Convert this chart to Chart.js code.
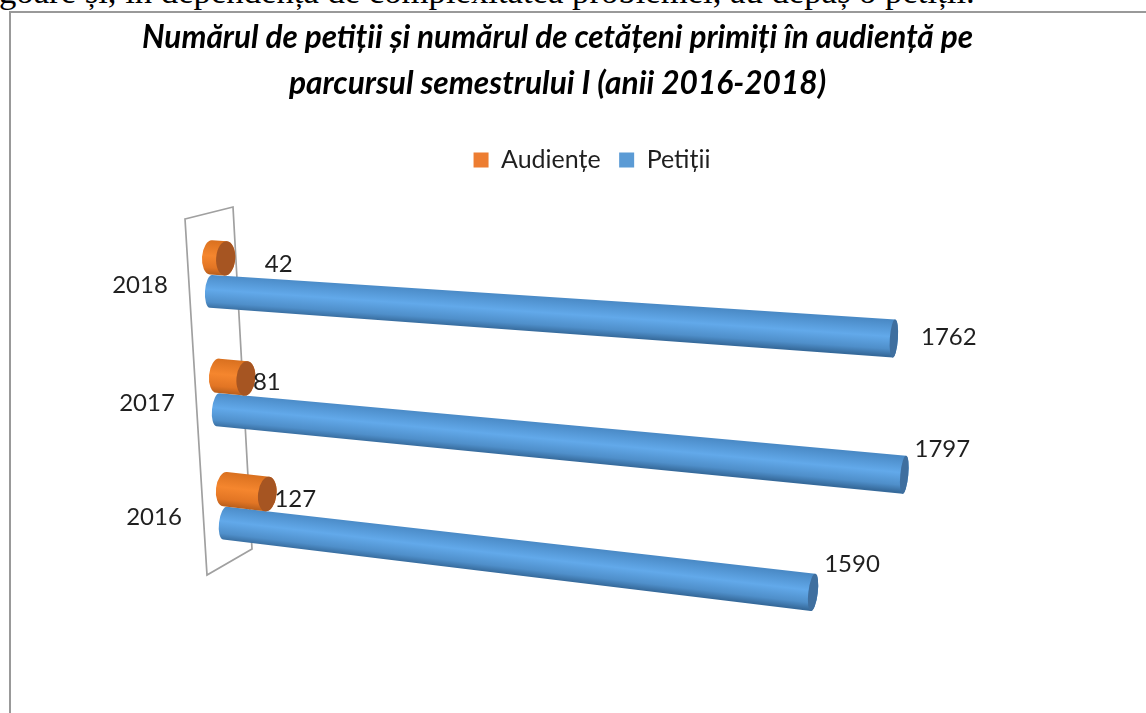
<!DOCTYPE html>
<html lang="ro">
<head>
<meta charset="utf-8">
<title>Petiții și audiențe</title>
<script src="https://cdn.jsdelivr.net/npm/chart.js@4"></script>
<style>
  html, body { margin: 0; background: #fff; }
  body { width: 1146px; height: 713px; overflow: hidden; position: relative; }
  #topLine {
    position: absolute; left: -1px; top: -28px; white-space: nowrap;
    font: 34.7px/40px "Liberation Serif", serif; color: #000;
  }
  #frame {
    position: absolute; left: 9px; top: 11px; right: 0; bottom: 0;
    border-left: 2px solid #999; border-top: 2px solid #999; background: #fff;
  }
  canvas { position: absolute; left: 0; top: 0; }
</style>
</head>
<body>
<div id="topLine">goare și, în dependența de complexitatea problemei, au depăș o petiții.</div>
<div id="frame"></div>
<canvas id="chart" width="1146" height="713"></canvas>
<script>
const years = ["2018", "2017", "2016"]
const audiente = [42, 81, 127]
const petitii = [1762, 1797, 1590]
const titleLines = [
  "Numărul de petiții și numărul de cetățeni primiți în audiență pe",
  "parcursul semestrului I (anii 2016-2018)",
]

// vue 3D : chaque rangée a sa propre inclinaison
const rowTilt = [0.069, 0.0946, 0.118]
const rowDx = [0, 7, 14]
const rowDy = [0, 2.5, 0]
const rowStretch = [1.0172, 1.0024, 0.9707]
const wallCorners = [[185, 219], [233, 207], [252, 549], [207, 575]]

// position des étiquettes par rapport au bout de la barre
const labelOffsets = {
  0: [[53, 6], [21, 4], [28, 5]],
  1: [[55, -1], [38, -25], [39, -28]],
}

const textFont = "Lato, Carlito, sans-serif"

function project(chart, row, stretch, px, py) {
  const left = chart.chartArea.left
  const d = (px - left) * rowStretch[row] * stretch
  return { x: left + rowDx[row] + d, y: py + rowDy[row] + d * rowTilt[row] }
}

// le cylindre grossit un peu vers le fond, et ses bouts s'aplatissent
function halfHeight(base, x) {
  return base * (0.97 + (x - 210) * 0.00022)
}
function capWidth(x) {
  return Math.max(4, 9.5 - (x - 230) * 0.0082)
}

function drawCylinder(ctx, start, end, baseHalf, ds) {
  const colors = ds.shades
  const angle = Math.atan2(end.y - start.y, end.x - start.x)
  const nx = -Math.sin(angle)
  const ny = Math.cos(angle)
  const hs = halfHeight(baseHalf, start.x)
  const he = halfHeight(baseHalf, end.x)
  const ws = ds.startCap
  const we = capWidth(end.x)
  const mx = (start.x + end.x) / 2
  const my = (start.y + end.y) / 2
  const hm = (hs + he) / 2

  const grad = ctx.createLinearGradient(mx - nx * hm, my - ny * hm, mx + nx * hm, my + ny * hm)
  grad.addColorStop(0, colors[0])
  grad.addColorStop(0.45, colors[1])
  grad.addColorStop(0.8, colors[2])
  grad.addColorStop(1, colors[3])

  ctx.beginPath()
  ctx.ellipse(start.x, start.y, ws, hs, angle, -Math.PI / 2, Math.PI / 2, true)
  ctx.ellipse(end.x, end.y, we, he, angle, Math.PI / 2, -Math.PI / 2, true)
  ctx.closePath()
  ctx.fillStyle = grad
  ctx.fill()

  ctx.beginPath()
  ctx.ellipse(end.x, end.y, we, he, angle, 0, Math.PI * 2)
  ctx.fillStyle = colors[4]
  ctx.fill()
}

class CylinderController extends Chart.BarController {
  draw() {
    const ctx = this.chart.ctx
    const ds = this.getDataset()
    this.getMeta().data.forEach((bar, row) => {
      const start = project(this.chart, row, ds.stretch, bar.base, bar.y)
      const end = project(this.chart, row, ds.stretch, bar.x, bar.y)
      drawCylinder(ctx, start, end, bar.height / 2 * ds.girth, ds)
    })
  }
}
CylinderController.id = "cylinder"
CylinderController.defaults = Chart.BarController.defaults
Chart.register(CylinderController)

const backWall = {
  id: "backWall",
  beforeDatasetsDraw(chart) {
    const ctx = chart.ctx
    ctx.save()
    ctx.beginPath()
    wallCorners.forEach((p, i) => (i ? ctx.lineTo(p[0], p[1]) : ctx.moveTo(p[0], p[1])))
    ctx.closePath()
    ctx.strokeStyle = "#a0a0a0"
    ctx.lineWidth = 1.7
    ctx.stroke()
    ctx.restore()
  },
}

const textLabels = {
  id: "textLabels",
  afterDatasetsDraw(chart) {
    const ctx = chart.ctx
    const yScale = chart.scales.y
    ctx.save()
    ctx.font = "24px " + textFont
    ctx.fillStyle = "#1f1f1f"
    ctx.textAlign = "center"
    ctx.textBaseline = "middle"
    years.forEach((year, row) => {
      const start = project(chart, row, 1, chart.chartArea.left, yScale.getPixelForTick(row))
      ctx.fillText(year, start.x - 71, start.y + 11)
    })
    chart.data.datasets.forEach((ds, d) => {
      chart.getDatasetMeta(d).data.forEach((bar, row) => {
        const end = project(chart, row, ds.stretch, bar.x, bar.y)
        const off = labelOffsets[d][row]
        ctx.fillText(ds.data[row], end.x + off[0], end.y + off[1])
      })
    })
    ctx.restore()
  },
}

new Chart(document.getElementById("chart"), {
  type: "cylinder",
  data: {
    labels: years,
    datasets: [
      {
        label: "Audiențe",
        data: audiente,
        backgroundColor: "#ed7d31",
        clip: false,
        stretch: 0.9,
        girth: 1.04,
        startCap: 9,
        shades: ["#d9701f", "#f5862e", "#e27524", "#b85e1c", "#a65522"],
      },
      {
        label: "Petiții",
        data: petitii,
        backgroundColor: "#5b9bd5",
        clip: false,
        stretch: 1,
        girth: 1,
        startCap: 6,
        shades: ["#4a8ac6", "#62a9ea", "#4f8fca", "#366a9b", "#3f6f9f"],
      },
    ],
  },
  options: {
    indexAxis: "y",
    responsive: false,
    animation: false,
    barThickness: 34,
    layout: { padding: { left: 142, right: 173, top: 0, bottom: 149 } },
    scales: {
      x: {
        position: "top",
        min: 0,
        max: 2000,
        grid: { display: false },
        border: { display: false },
        ticks: { display: false },
        afterFit(scale) { scale.height = 34 },
      },
      y: {
        grid: { display: false },
        border: { display: false },
        ticks: { display: false },
        afterFit(scale) { scale.width = 69 },
      },
    },
    plugins: {
      title: {
        display: true,
        text: titleLines,
        color: "#000",
        font: { family: textFont, size: 31.7, weight: "bold", style: "italic", lineHeight: 46 / 31.7 },
        padding: { top: 15, bottom: 22 },
      },
      legend: {
        position: "top",
        fullSize: false,
        labels: {
          color: "#1f1f1f",
          font: { family: textFont, size: 25 },
          boxWidth: 15,
          boxHeight: 15,
          padding: 18.5,
        },
      },
      tooltip: { enabled: false },
    },
  },
  plugins: [backWall, textLabels],
})
</script>
</body>
</html>
